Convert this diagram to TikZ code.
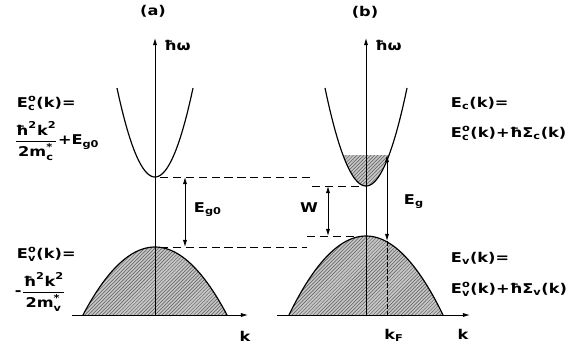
\documentclass[tikz,border=0pt]{standalone}
\usepackage{amsmath}
\usepackage{fontspec}
\setmainfont{DejaVu Sans}
\usetikzlibrary{arrows.meta,patterns}
\newcommand{\tx}[1]{\text{#1}}

\begin{document}
\begin{tikzpicture}[x=0.03cm,y=-0.03cm,
    font=\fontsize{11.5}{13}\selectfont\bfseries,
    >={Latex[length=6pt,width=3.5pt]},
    every node/.style={xscale=1.2},
    band/.style={line width=1pt},
    axis/.style={line width=0.7pt},
    filled/.style={preaction={fill=gray!45}, pattern=north east lines, pattern color=black!65},
    level/.style={line width=0.7pt, dash pattern=on 7pt off 4pt}]
  \useasboundingbox (0,0) rectangle (572,354);

  % panel (a)
  \fill[filled, domain=-72:72, samples=60] plot ({155+\x},{247+0.0131*\x*\x}) -- cycle;
  \draw[band, domain=-72:72, samples=60] plot ({155+\x},{247+0.0131*\x*\x});
  \draw[band, domain=-38:38, samples=60] plot ({155+\x},{177-0.0616*\x*\x});
  \draw[axis,->] (72,315) -- (248,315);
  \draw[axis,->] (155,315) -- (155,38);

  % panel (b)
  \fill[filled, domain=-77:77, samples=60] plot ({366+\x},{236+0.0133*\x*\x}) -- cycle;
  \draw[band, domain=-77:77, samples=60] plot ({366+\x},{236+0.0133*\x*\x});
  \fill[filled, domain=-23:23, samples=40] plot ({366+\x},{186-0.0583*\x*\x}) -- cycle;
  \draw[band, domain=-41:41, samples=60] plot ({366+\x},{186-0.0583*\x*\x});
  \draw[axis,->] (277,315) -- (470,315);
  \draw[axis,->] (366,315) -- (366,38);
  \draw[axis, dash pattern=on 4pt off 2pt] (387,241) -- (387,315);

  % levels
  \draw[level] (160,177) -- (310,177);
  \draw[level] (160,247) -- (307,247);
  \draw[level] (312,186) -- (362,186);
  \draw[level] (307,236) -- (362,236);

  \coordinate (ga1) at (185,177);
  \coordinate (ga2) at (185,247);
  \coordinate (w1) at (328,186);
  \coordinate (w2) at (328,236);
  \coordinate (gb1) at (387,155);
  \coordinate (gb2) at (387,241);
  \draw[axis,<->] (ga1) -- (ga2);
  \draw[axis,<->] (w1) -- (w2);
  \draw[axis,<->] (gb1) -- (gb2);

  % labels
  \node (tita) at (153,11) {(a)};
  \node (titb) at (365,12) {(b)};
  \node[anchor=base west] (hwa) at (159,50) {ħω};
  \node[anchor=base west] (hwb) at (370,50) {ħω};
  \node (ka) at (245,336) {k};
  \node (kb) at (463,334) {k};
  \node (kf) at (394,335) {k$_{\tx{F}}$};
  \node[anchor=west] (lga) at (189,210) {E$_{\tx{g0}}$};
  \node (lw) at (309,208) {W};
  \node[anchor=west] (lgb) at (399,202) {E$_{\tx{g}}$};

  \node[anchor=base west] (eca) at (12,107) {E$^{\tx{o}}_{\tx{c}}$(k)=};
  \node[anchor=west] (fca) at (9,141) {$\dfrac{\tx{ħ}^{\tx{2}}\tx{k}^{\tx{2}}}{\tx{2m}^{\tx{*}}_{\tx{c}}}$+E$_{\tx{g0}}$};
  \node[anchor=base west] (eva) at (12,258) {E$^{\tx{o}}_{\tx{v}}$(k)=};
  \node[anchor=west] (fva) at (10,292) {-$\dfrac{\tx{ħ}^{\tx{2}}\tx{k}^{\tx{2}}}{\tx{2m}^{\tx{*}}_{\tx{v}}}$};

  \node[anchor=base west] (ecb) at (446,107) {E$_{\tx{c}}$(k)=};
  \node[anchor=base west] (scb) at (446,137) {E$^{\tx{o}}_{\tx{c}}$(k)+ħΣ$_{\tx{c}}$(k)};
  \node[anchor=base west] (evb) at (446,262) {E$_{\tx{v}}$(k)=};
  \node[anchor=base west] (svb) at (446,293) {E$^{\tx{o}}_{\tx{v}}$(k)+ħΣ$_{\tx{v}}$(k)};
\end{tikzpicture}
\end{document}
